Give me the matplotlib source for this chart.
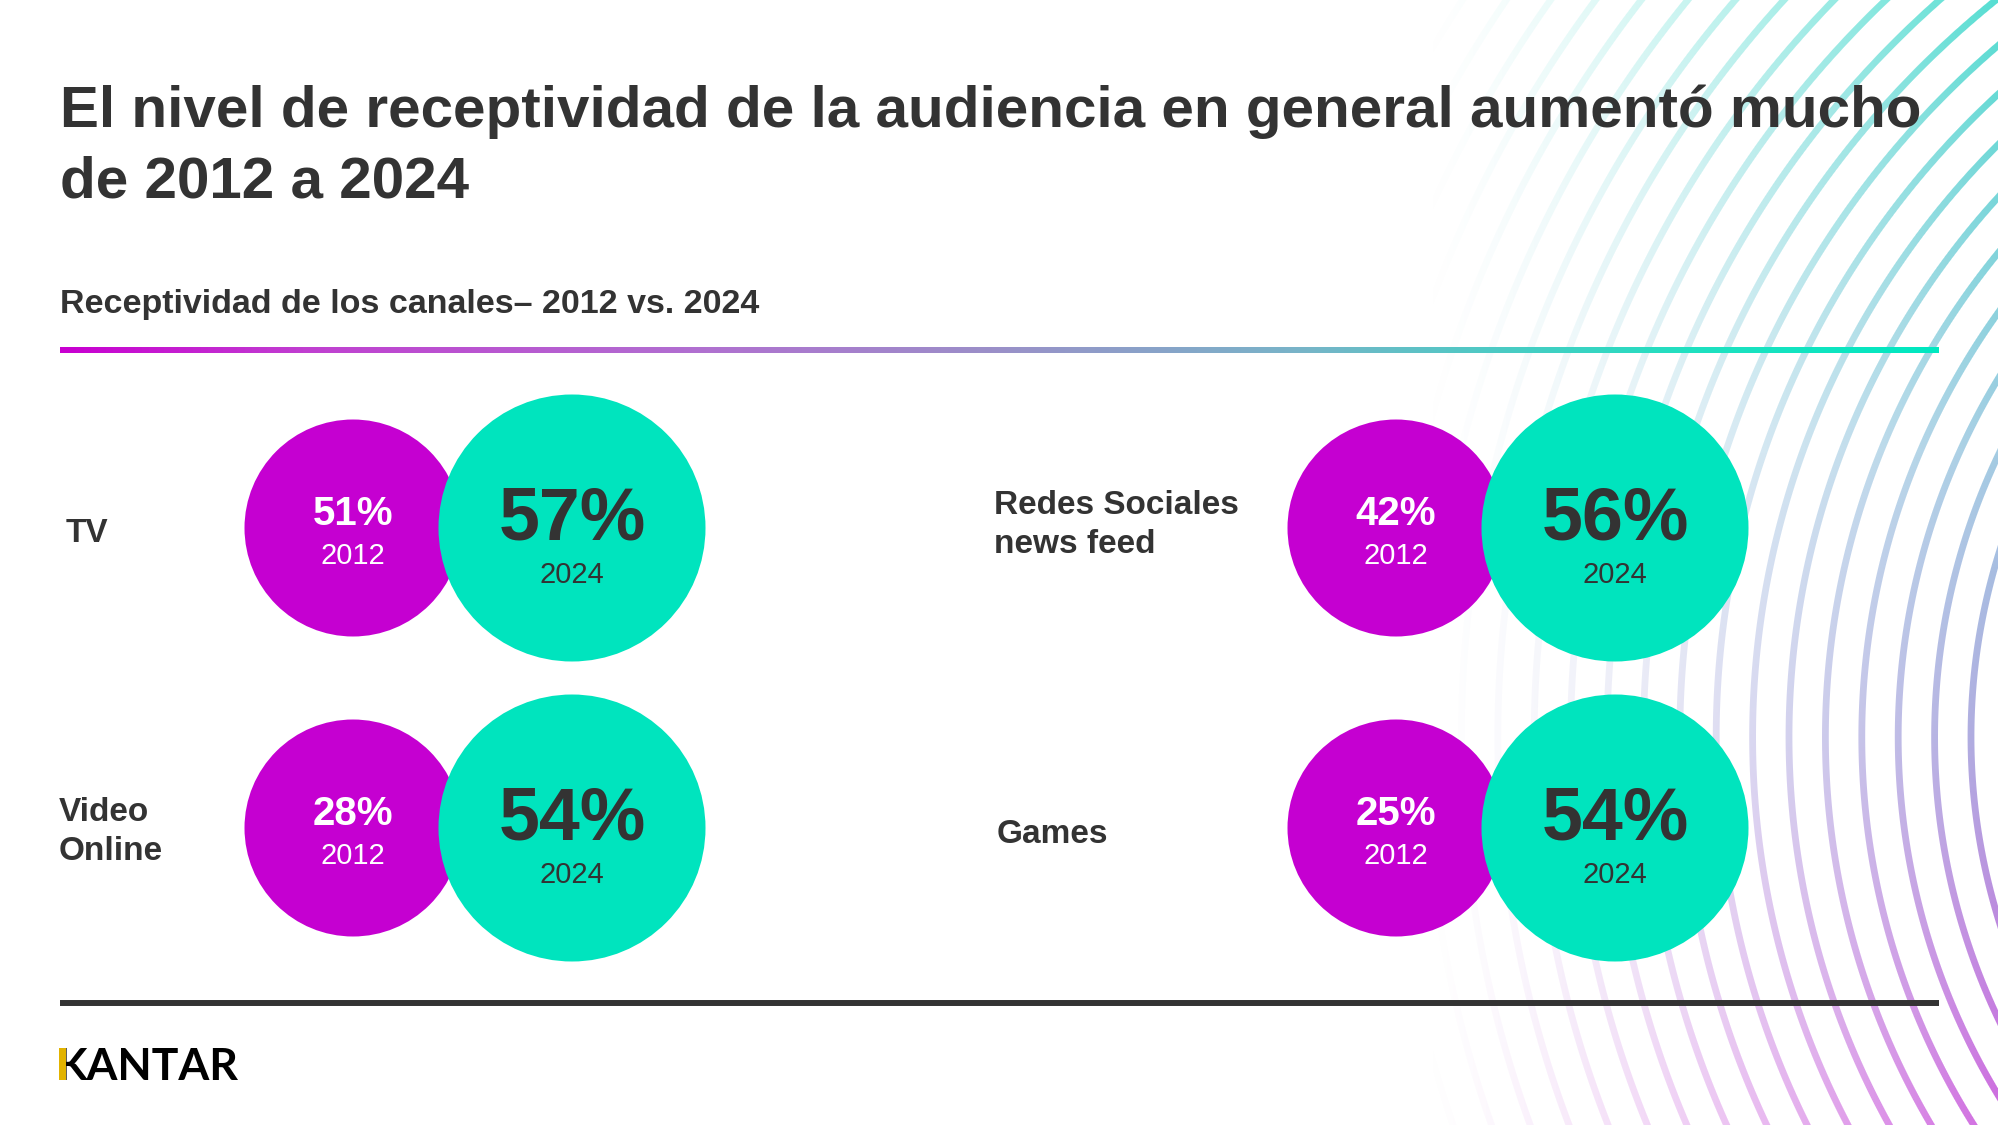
import numpy as np
import matplotlib.pyplot as plt
from matplotlib.patches import Circle, Rectangle
from matplotlib.colors import LinearSegmentedColormap

# ---- data ----
channels = ['TV', 'Video\nOnline', 'Redes Sociales\nnews feed', 'Games']
pct_2012 = [51, 28, 42, 25]
pct_2024 = [57, 54, 56, 54]
years = ['2012', '2024']

title_lines = ['El nivel de receptividad de la audiencia en general aumentó mucho',
               'de 2012 a 2024']
subtitle = 'Receptividad de los canales– 2012 vs. 2024'

# ---- layout (pixel coordinates, y pointing down) ----
W, H = 1999, 1125
label_x = [66, 59, 994, 997]
label_dy = [14, 32, 25, 15]       # baseline of last label line, relative to row centre
old_cx = [353, 353, 1396, 1396]
new_cx = [572, 572, 1615, 1615]
row_cy = [528, 828, 528, 828]
r_old, r_new = 108.5, 133.5

DARK = '#333333'
MAGENTA = '#C500D1'
TEAL = '#00E4BE'
FONT = 'Liberation Sans'

fig = plt.figure(figsize=(W / 100, H / 100), dpi=100)
fig.patch.set_facecolor('white')
ax = fig.add_axes([0, 0, 1, 1])

# ---- background ripple rings on the right (decoration) ----
ring_cmap = LinearSegmentedColormap.from_list(
    'ring', [(0, '#55DED2'), (0.4, '#A3CCE3'), (0.66, '#ABA6DE'), (1.0, '#D06AE0')])
cx0, cy0 = 2590, 737
r0, step, ring_w, n_rings = 619, 36.4, 6.8, 24
x0 = 1150
gx, gy = np.meshgrid(np.arange(x0, W) + 0.5, np.arange(H) + 0.5)
dist = np.hypot(gx - cx0, gy - cy0)
k = np.clip(np.round((dist - r0) / step), 0, n_rings - 1)
d = np.abs(dist - (r0 + k * step))
mask = np.clip(ring_w / 2 + 0.5 - d, 0, 1)
fade = np.clip((gx - 1420) / 580, 0, 1) ** 1.45
img = ring_cmap(np.clip(gy / H, 0, 1))
img[..., 3] = mask * fade
ax.imshow(img, extent=(x0, W, H, 0), interpolation='nearest', zorder=0, aspect='auto')

# ---- title & subtitle ----
for i, line in enumerate(title_lines):
    ax.text(60, 127 + 70 * i, line, fontsize=42, fontweight='bold', color=DARK,
            family=FONT, ha='left', va='baseline', zorder=5)
ax.text(60, 313, subtitle, fontsize=24.5, fontweight='bold', color=DARK,
        family=FONT, ha='left', va='baseline', zorder=5)

# gradient rule under subtitle
rule_cmap = LinearSegmentedColormap.from_list(
    'rule', [(0, '#C800D0'), (0.13, '#C040D0'), (0.34, '#B070D0'), (0.5, '#9A90C8'),
             (0.66, '#78B4C8'), (0.87, '#20E0C0'), (1, '#00E8C0')])
ax.imshow(np.linspace(0, 1, 600)[None, :], cmap=rule_cmap, extent=(60, 1939, 353, 347),
          interpolation='bilinear', aspect='auto', zorder=5)

# ---- channel bubbles ----
for i, name in enumerate(channels):
    cy = row_cy[i]
    ax.text(label_x[i], cy + label_dy[i], name, fontsize=24, fontweight='bold',
            color=DARK, family=FONT, ha='left', va='baseline',
            linespacing=1.32, zorder=5)
    ax.add_patch(Circle((old_cx[i], cy), r_old, color=MAGENTA, lw=0, zorder=3))
    ax.add_patch(Circle((new_cx[i], cy), r_new, color=TEAL, lw=0, zorder=4))
    ax.text(old_cx[i], cy - 3, f'{pct_2012[i]}%', fontsize=29, fontweight='bold',
            color='white', family=FONT, ha='center', va='baseline', zorder=6)
    ax.text(old_cx[i], cy + 36, years[0], fontsize=21, color='white',
            family=FONT, ha='center', va='baseline', zorder=6)
    ax.text(new_cx[i], cy + 11, f'{pct_2024[i]}%', fontsize=53, fontweight='bold',
            color=DARK, family=FONT, ha='center', va='baseline', zorder=6)
    ax.text(new_cx[i], cy + 55, years[1], fontsize=21, color=DARK,
            family=FONT, ha='center', va='baseline', zorder=6)

# bottom rule
ax.plot([60, 1939], [1003, 1003], color=DARK, lw=4.3, solid_capstyle='butt', zorder=5)

# ---- logo ----
ax.text(56, 1080, 'KANTAR', fontsize=32, fontweight='bold', color='black',
        family='Lato', ha='left', va='baseline', zorder=5)
ax.add_patch(Rectangle((59.5, 1048), 7, 32, color='#E2B300', lw=0, zorder=6))

ax.set_xlim(0, W)
ax.set_ylim(H, 0)
ax.axis('off')

fig.savefig('out.png', dpi=100, facecolor='white')
